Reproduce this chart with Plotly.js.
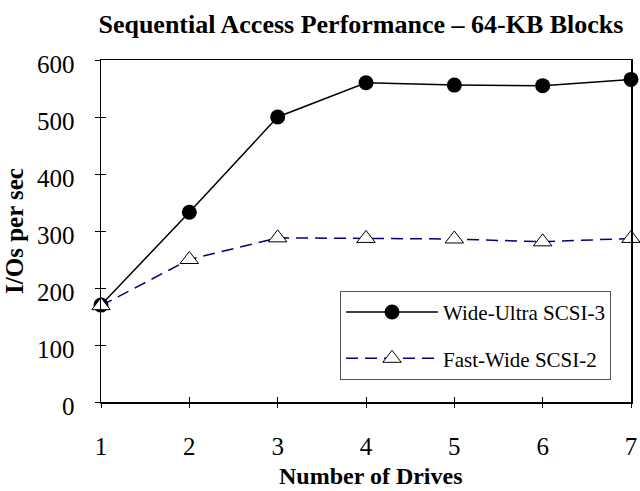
<!DOCTYPE html>
<html>
<head>
<meta charset="utf-8">
<script src="https://cdn.plot.ly/plotly-3.0.1.min.js"></script>
<style>html,body{margin:0;padding:0;background:#fff;}#chart{width:640px;height:491px;}</style>
</head>
<body>
<div id="chart"></div>
<script>
const drives = [1, 2, 3, 4, 5, 6, 7];
const wideUltraSCSI3 = [170, 333, 500, 560, 556, 555, 566];
const fastWideSCSI2 = [169, 250, 288, 287, 286, 281, 287];
const seriesNames = ["Wide-Ultra SCSI-3", "Fast-Wide SCSI-2"];
const yTicks = [0, 100, 200, 300, 400, 500, 600];
const xTitle = "Number of Drives";

const serif = "Liberation Serif, Times New Roman, serif";

const traces = [
  {
    x: drives, y: wideUltraSCSI3, name: seriesNames[0], type: "scatter", mode: "lines+markers",
    line: {color: "#000000", width: 1.5},
    marker: {symbol: "circle", size: 15, color: "#000000"},
    cliponaxis: false, legendgroup: "a"
  },
  {
    x: drives, y: fastWideSCSI2, name: seriesNames[1], type: "scatter", mode: "lines+markers",
    line: {color: "#000080", width: 1.5, dash: "12px,7px"},
    marker: {symbol: "triangle-up", size: 16, color: "#ffffff", line: {color: "#000000", width: 1}},
    cliponaxis: false, legendgroup: "b"
  },
  {
    x: drives, y: wideUltraSCSI3, xaxis: "x2", yaxis: "y2", type: "scatter", mode: "markers",
    marker: {opacity: 0}, showlegend: false, hoverinfo: "skip"
  }
];

const layout = {
  width: 640, height: 491,
  margin: {l: 101, r: 9, t: 60, b: 89},
  paper_bgcolor: "#ffffff", plot_bgcolor: "#ffffff",
  font: {family: serif, size: 25, color: "#000000"},
  title: {text: "<b>Sequential Access Performance – 64-KB Blocks</b>", font: {family: serif, size: 26}, x: 0.564, xanchor: "center", y: 0.951, yanchor: "middle"},
  showlegend: true,
  legend: {
    x: 0.451, y: 0.325, xanchor: "left", yanchor: "top",
    bordercolor: "#555555", borderwidth: 1, bgcolor: "#ffffff",
    font: {family: serif, size: 21}, itemwidth: 92, traceorder: "grouped", tracegroupgap: 16
  },
  annotations: [{
    text: "<b>" + xTitle + "</b>", xref: "paper", yref: "paper", x: 0.509, y: -0.2164,
    xanchor: "center", yanchor: "middle", showarrow: false, borderpad: 0,
    font: {family: serif, size: 24, color: "#000"}
  }],
  xaxis: {
    range: [1, 7], tickvals: drives, ticks: "inside", ticklen: 5, tickcolor: "#000",
    showline: true, linecolor: "#000", linewidth: 1.5, mirror: true, showgrid: false, zeroline: false,
    tickfont: {family: serif, size: 25}, ticklabelstandoff: 21, fixedrange: true
  },
  yaxis: {
    range: [0, 600], tickvals: yTicks, ticks: "outside", ticklen: 5, tickcolor: "#000",
    showline: true, linecolor: "#000", linewidth: 1.5, mirror: true, showgrid: false, zeroline: false,
    title: {text: "<b>I/Os per sec</b>", font: {family: serif, size: 25}, standoff: 6},
    tickfont: {family: serif, size: 25}, ticklabelstandoff: 15, ticklabelshift: 4, fixedrange: true
  },
  xaxis2: {overlaying: "x", range: [1, 7], tickvals: drives, ticks: "outside", ticklen: 5, tickcolor: "#000",
    showticklabels: false, showline: false, showgrid: false, zeroline: false, side: "bottom", anchor: "y2"},
  yaxis2: {overlaying: "y", range: [0, 600], tickvals: yTicks, ticks: "inside", ticklen: 5, tickcolor: "#000",
    showticklabels: false, showline: false, showgrid: false, zeroline: false, side: "left", anchor: "x2"}
};

Plotly.newPlot("chart", traces, layout, {displayModeBar: false, staticPlot: true});
</script>
</body>
</html>
